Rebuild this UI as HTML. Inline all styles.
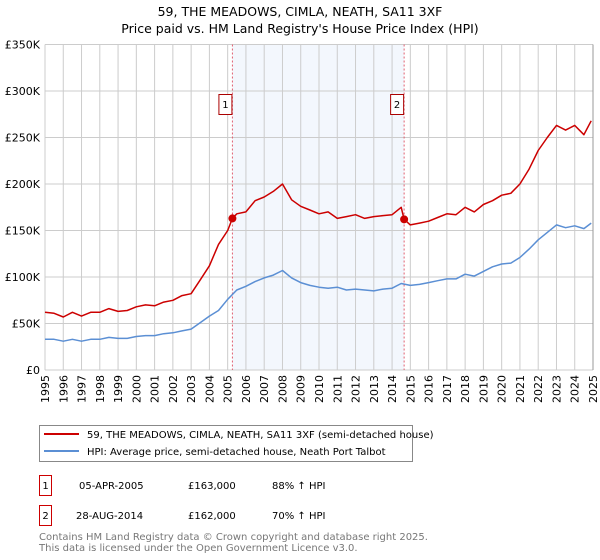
<!DOCTYPE html>
<html><head><meta charset="utf-8"><style>
body{margin:0;width:600px;height:560px;background:#fff;font-family:"DejaVu Sans","Liberation Sans",sans-serif;overflow:hidden}
svg{position:absolute;left:0;top:0}
</style></head><body>
<svg width="600" height="560" font-family="DejaVu Sans, Liberation Sans, sans-serif">
<text x="300" y="16" text-anchor="middle" font-size="12.5" fill="#000">59, THE MEADOWS, CIMLA, NEATH, SA11 3XF</text>
<text x="300" y="33" text-anchor="middle" font-size="12.5" fill="#000">Price paid vs. HM Land Registry's House Price Index (HPI)</text>
<g id="plot"></g>
<g>
<rect x="39.5" y="425.5" width="373" height="36" fill="#fff" stroke="#888"/>
<line x1="44" y1="434" x2="79" y2="434" stroke="#cc0000" stroke-width="2"/>
<text x="87" y="438" font-size="10">59, THE MEADOWS, CIMLA, NEATH, SA11 3XF (semi-detached house)</text>
<line x1="44" y1="451" x2="79" y2="451" stroke="#5b8fd4" stroke-width="2"/>
<text x="87" y="455" font-size="10">HPI: Average price, semi-detached house, Neath Port Talbot</text>
</g>
<g font-size="10">
<rect x="39.5" y="475.5" width="12" height="20" fill="#fff" stroke="#cc0000"/>
<text x="45.5" y="489" text-anchor="middle">1</text>
<text x="79" y="489">05-APR-2005</text><text x="188" y="489">£163,000</text><text x="272" y="489">88% ↑ HPI</text>
<rect x="39.5" y="505.5" width="12" height="20" fill="#fff" stroke="#cc0000"/>
<text x="45.5" y="519" text-anchor="middle">2</text>
<text x="76" y="519">28-AUG-2014</text><text x="188" y="519">£162,000</text><text x="272" y="519">70% ↑ HPI</text>
</g>
<text x="39" y="540" font-size="10" fill="#777">Contains HM Land Registry data © Crown copyright and database right 2025.</text>
<text x="39" y="551" font-size="10" fill="#777">This data is licensed under the Open Government Licence v3.0.</text>
</svg>
<script>
const yTicks=[0,50,100,150,200,250,300,350];
const yTickLabels=["£0","£50K","£100K","£150K","£200K","£250K","£300K","£350K"];
const years=[1995,1996,1997,1998,1999,2000,2001,2002,2003,2004,2005,2006,2007,2008,2009,2010,2011,2012,2013,2014,2015,2016,2017,2018,2019,2020,2021,2022,2023,2024,2025];
const hpiX=[1995,1995.5,1996,1996.5,1997,1997.5,1998,1998.5,1999,1999.5,2000,2000.5,2001,2001.5,2002,2002.5,2003,2003.5,2004,2004.5,2005,2005.5,2006,2006.5,2007,2007.5,2008,2008.5,2009,2009.5,2010,2010.5,2011,2011.5,2012,2012.5,2013,2013.5,2014,2014.5,2015,2015.5,2016,2016.5,2017,2017.5,2018,2018.5,2019,2019.5,2020,2020.5,2021,2021.5,2022,2022.5,2023,2023.5,2024,2024.5,2024.9];
const hpiY=[33,33,31,33,31,33,33,35,34,34,36,37,37,39,40,42,44,51,58,64,76,86,90,95,99,102,107,99,94,91,89,88,89,86,87,86,85,87,88,93,91,92,94,96,98,98,103,101,106,111,114,115,121,130,140,148,156,153,155,152,158];
const propX=[1995,1995.5,1996,1996.5,1997,1997.5,1998,1998.5,1999,1999.5,2000,2000.5,2001,2001.5,2002,2002.5,2003,2003.5,2004,2004.5,2005,2005.26,2005.5,2006,2006.5,2007,2007.5,2008,2008.5,2009,2009.5,2010,2010.5,2011,2011.5,2012,2012.5,2013,2013.5,2014,2014.5,2014.66,2015,2015.5,2016,2016.5,2017,2017.5,2018,2018.5,2019,2019.5,2020,2020.5,2021,2021.5,2022,2022.5,2023,2023.5,2024,2024.5,2024.9];
const propY=[62,61,57,62,58,62,62,66,63,64,68,70,69,73,75,80,82,97,112,135,150,163,168,170,182,186,192,200,183,176,172,168,170,163,165,167,163,165,166,167,175,162,156,158,160,164,168,167,175,170,178,182,188,190,200,216,236,250,263,258,263,253,268];
const saleX=[2005.26,2014.66];
const saleY=[163,162];
const saleLabels=["1","2"];
const X0=45,X1=593,Y0=370,Y1=44.5;
const sx=v=>X0+(v-1995)/(2025-1995)*(X1-X0);
const sy=v=>Y0-v/350*(Y0-Y1);
const NS="http://www.w3.org/2000/svg";
const g=document.getElementById('plot');
function mk(t,a){const e=document.createElementNS(NS,t);for(const k in a)e.setAttribute(k,a[k]);g.appendChild(e);return e;}
const shade=mk('rect',{x:sx(saleX[0]),y:Y1,width:sx(saleX[1])-sx(saleX[0]),height:Y0-Y1,fill:'#eef3fc',opacity:0.7});


years.forEach(y=>{const l=mk('line',{x1:sx(y),x2:sx(y),y1:Y1,y2:Y0,stroke:'#ccc','stroke-width':1});


const t=mk('text',{x:0,y:0,'font-size':11,'text-anchor':'end',transform:`translate(${sx(y)+4},${Y0+5}) rotate(-90)`});t.textContent=y;

});
yTicks.forEach((v,i)=>{const l=mk('line',{x1:X0,x2:X1,y1:sy(v),y2:sy(v),stroke:'#ccc','stroke-width':1});


const t=mk('text',{x:40,y:sy(v)+4,'font-size':11,'text-anchor':'end'});t.textContent=yTickLabels[i];

});
saleX.forEach((x,i)=>{const l=mk('line',{x1:sx(x),x2:sx(x),y1:Y1,y2:Y0,stroke:'#e06070','stroke-width':1,'stroke-dasharray':'2,2'});

});
function path(xs,ys,c,n){const d=xs.map((x,i)=>(i?'L':'M')+sx(x).toFixed(1)+','+sy(ys[i]).toFixed(1)).join('');
const p=mk('path',{d:d,fill:'none',stroke:c,'stroke-width':1.5,'stroke-linejoin':'round'});

}
path(hpiX,hpiY,'#5b8fd4','hpi-line');
path(propX,propY,'#cc0000','property-line');
saleX.forEach((x,i)=>{const c=mk('circle',{cx:sx(x),cy:sy(saleY[i]),r:4,fill:'#cc0000'});


const r=mk('rect',{x:sx(x)-13.5,y:94.5,width:13,height:20,fill:'#fff',stroke:'#aa0000'});


const t=mk('text',{x:sx(x)-7,y:108,'font-size':10,'text-anchor':'middle'});t.textContent=saleLabels[i];

});
const ax=mk('line',{x1:X1,x2:X1,y1:Y1,y2:Y0,stroke:'#999','stroke-width':1});


</script>
</body></html>
